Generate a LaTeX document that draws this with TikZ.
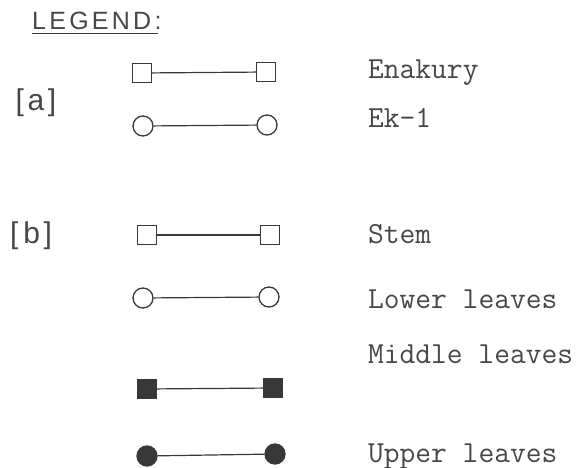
\documentclass[tikz,border=0pt]{standalone}
\usepackage{fontspec}
\setmainfont{Liberation Sans}
\newfontfamily\stencil[LetterSpace=13]{Liberation Sans}
\newfontfamily\brackfont[LetterSpace=12]{Liberation Sans}
\usepackage{xcolor}
\usepackage{tikz}
\usetikzlibrary{shapes}

\definecolor{ink}{gray}{0.22}
\definecolor{txt}{gray}{0.28}

\begin{document}
\begin{tikzpicture}[
    x=1pt, y=-1pt,
    osq/.style={rectangle, draw=ink, line width=1.3pt, fill=white, minimum size=19pt, inner sep=0pt},
    fsq/.style={rectangle, draw=ink, line width=1.3pt, fill=ink, minimum size=19pt, inner sep=0pt},
    ocirc/.style={circle, draw=ink, line width=1.3pt, fill=white, minimum size=20pt, inner sep=0pt},
    fcirc/.style={circle, draw=ink, line width=1.3pt, fill=ink, minimum size=20pt, inner sep=0pt},
    link/.style={draw=ink, line width=1.2pt},
    label/.style={anchor=base west, inner sep=0pt, text=txt, font=\ttfamily\fontsize{30.6}{34}\selectfont},
    tag/.style={inner sep=0pt, text=txt, font=\brackfont\fontsize{30}{34}\selectfont}
]
    \useasboundingbox (0,0) rectangle (581,468);

    % title
    \node[anchor=base west, inner sep=0pt, text=txt, font=\stencil\fontsize{25}{28}\selectfont] (title) at (32,30) {LEGEND:};
    \draw[ink, line width=1.2pt] (32,33.5) -- (158,33.5);

    % group (a)
    \node[tag] (taga) at (36,103) {[a]};
    \node[osq] (a1l) at (142,73) {};
    \node[osq] (a1r) at (266,72) {};
    \node[ocirc] (a2l) at (143,126) {};
    \node[ocirc] (a2r) at (267,125) {};
    \draw[link] (a1l) -- (a1r);
    \draw[link] (a2l) -- (a2r);
    \node[label] (enak) at (368,79) {Enakury};
    \node[label] (ek) at (368,128) {Ek-1};

    % group (b)
    \node[tag] (tagb) at (31,236) {[\,b]};
    \node[osq] (b1l) at (147,235) {};
    \node[osq] (b1r) at (270,235) {};
    \node[ocirc] (b2l) at (143,298) {};
    \node[ocirc] (b2r) at (269,297) {};
    \node[fsq] (b3l) at (147,389) {};
    \node[fsq] (b3r) at (273,388) {};
    \node[fcirc] (b4l) at (147,456) {};
    \node[fcirc] (b4r) at (275,454) {};
    \draw[link] (b1l) -- (b1r);
    \draw[link] (b2l) -- (b2r);
    \draw[link] (b3l) -- (b3r);
    \draw[link] (b4l) -- (b4r);
    \node[label] (stem) at (368,243) {Stem};
    \node[label] (lower) at (368,308) {Lower leaves};
    \node[label] (middle) at (368,363) {Middle leaves};
    \node[label] (upper) at (368,462) {Upper leaves};
\end{tikzpicture}
\end{document}
